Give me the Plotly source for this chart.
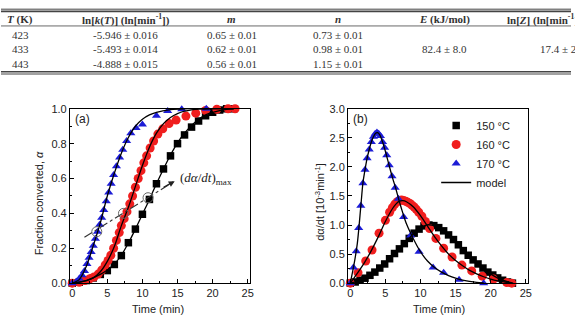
import plotly.graph_objects as go

W, H = 575, 327

# ---------------- table data ----------------
tbl_T = ["423", "433", "443"]
tbl_lnk = ["-5.946 ± 0.016", "-5.493 ± 0.014", "-4.888 ± 0.015"]
tbl_m = ["0.65 ± 0.01", "0.62 ± 0.01", "0.56 ± 0.01"]
tbl_n = ["0.73 ± 0.01", "0.98 ± 0.01", "1.15 ± 0.01"]
tbl_E = "82.4 ± 8.0"
tbl_Z = "17.4 ± 2.2"
tbl_headers = ["<b><i>T</i> (K)</b>", "<b>ln[<i>k</i>(<i>T</i>)] (ln[min<sup>-1</sup>])</b>",
               "<b><i>m</i></b>", "<b><i>n</i></b>", "<b><i>E</i> (kJ/mol)</b>",
               "<b>ln[<i>Z</i>] (ln[min<sup>-1</sup>])</b>"]

# ---------------- panel (a): conversion ----------------
a150_t = [0, 1, 2, 3, 4, 5, 6, 7, 8, 9, 10, 11, 12, 13, 14, 15, 16, 17, 18, 19, 20, 21, 22, 23]
a150_y = [0, 0.005, 0.015, 0.03, 0.05, 0.072, 0.107, 0.158, 0.232, 0.31, 0.395, 0.48, 0.57, 0.655,
          0.73, 0.8, 0.85, 0.895, 0.93, 0.96, 0.98, 0.993, 1.0, 1.0]
a160_t = [0, 1.0, 1.8, 2.5, 3.1, 3.7, 4.2, 4.7, 5.1, 5.5, 5.9, 6.3, 6.7, 7.0, 7.4, 7.8, 8.2, 8.6, 9.0,
          9.4, 9.8, 10.2, 10.6, 11.1, 11.6, 12.2, 12.9, 13.8, 14.8, 16.2, 17.6, 19.0, 20.6, 22.2, 23.2]
a160_y = [0, 0.005, 0.015, 0.025, 0.035, 0.052, 0.075, 0.104, 0.13, 0.16, 0.2, 0.245, 0.29, 0.33, 0.37,
          0.41, 0.455, 0.5, 0.55, 0.6, 0.645, 0.69, 0.73, 0.775, 0.815, 0.855, 0.885, 0.915, 0.935,
          0.958, 0.975, 0.99, 0.997, 1.0, 1.0]
a170_t = [0, 0.6, 1.0, 1.4, 1.75, 2.1, 2.4, 2.7, 3.0, 3.3, 3.6, 3.9, 4.2, 4.5, 4.85, 5.2, 5.55, 5.9,
          6.3, 6.75, 7.2, 7.75, 8.35, 9.1, 10.0, 12.0, 13.6, 15.6, 19.1]
a170_y = [0, 0.01, 0.025, 0.045, 0.07, 0.11, 0.145, 0.178, 0.215, 0.255, 0.295, 0.335, 0.375, 0.42,
          0.47, 0.52, 0.57, 0.62, 0.67, 0.72, 0.765, 0.815, 0.86, 0.89, 0.91, 0.96, 0.987, 0.997, 1.0]

am150_t = [0, 2, 4, 5, 6, 7, 8, 9, 10, 11, 12, 13, 14, 15, 16, 17, 18, 19, 20, 21, 22, 23]
am150_y = [0, 0.015, 0.05, 0.075, 0.11, 0.16, 0.23, 0.31, 0.395, 0.48, 0.57, 0.655, 0.735, 0.805,
           0.86, 0.905, 0.94, 0.965, 0.98, 0.99, 0.997, 1.0]
am160_t = [0, 1, 2, 3, 4, 5, 6, 7, 8, 9, 10, 11, 12, 13, 14, 15, 16, 17, 18, 20, 23]
am160_y = [0, 0.006, 0.015, 0.03, 0.065, 0.125, 0.21, 0.33, 0.435, 0.555, 0.675, 0.78, 0.86, 0.915,
           0.95, 0.972, 0.986, 0.994, 0.998, 1.0, 1.0]
am170_t = [0, 1, 2, 3, 4, 5, 6, 7, 8, 9, 10, 11, 12, 14, 16, 18]
am170_y = [0, 0.02, 0.095, 0.215, 0.345, 0.5, 0.63, 0.745, 0.835, 0.9, 0.94, 0.965, 0.98, 0.995, 1.0, 1.0]

rmax_t = [3.5, 7.3, 10.8]
rmax_y = [0.295, 0.40, 0.49]
guide_t = [1.74, 14.3]
guide_y = [0.263, 0.578]

# ---------------- panel (b): rate ----------------
b150_t = [0, 0.7, 1.4, 2.1, 2.8, 3.5, 4.2, 4.9, 5.6, 6.3, 7.0, 7.7, 8.4, 9.1, 9.8, 10.5, 11.2, 11.9,
          12.6, 13.3, 14.0, 14.7, 15.4, 16.1, 16.8, 17.5, 18.2, 18.9, 19.6, 20.3, 21.0, 21.7, 22.4, 23.1]
b150_y = [0, 0.02, 0.05, 0.085, 0.135, 0.19, 0.26, 0.33, 0.42, 0.51, 0.59, 0.68, 0.77, 0.86, 0.93,
          0.985, 1.0, 0.99, 0.955, 0.9, 0.83, 0.75, 0.66, 0.56, 0.48, 0.4, 0.33, 0.26, 0.19, 0.14,
          0.09, 0.05, 0.02, 0.0]
b160_t = [0, 1.1, 2.2, 3.1, 4.1, 5.0, 5.6, 6.0, 6.35, 6.7, 7.0, 7.3, 7.6, 7.9, 8.2, 8.5, 8.8, 9.1,
          9.4, 9.75, 10.2, 10.7, 11.3, 12.2, 13.3, 14.5, 15.9, 17.3, 18.8, 20.4, 22.3, 23.0]
b160_y = [0, 0.18, 0.38, 0.57, 0.86, 1.08, 1.22, 1.3, 1.36, 1.4, 1.42, 1.43, 1.42, 1.41, 1.39, 1.37,
          1.34, 1.31, 1.27, 1.22, 1.15, 1.06, 0.94, 0.77, 0.6, 0.45, 0.31, 0.21, 0.12, 0.07, 0.01, 0.0]
b170_t = [0, 0.45, 0.85, 1.2, 1.5, 1.8, 2.1, 2.4, 2.7, 3.0, 3.3, 3.55, 3.8, 4.05, 4.3, 4.6, 4.9, 5.2,
          5.55, 5.95, 6.4, 6.85, 7.6, 8.6, 9.8, 11.8, 13.3, 15.5, 19.0]
b170_y = [0, 0.27, 0.55, 0.95, 1.33, 1.72, 1.95, 2.15, 2.3, 2.43, 2.52, 2.57, 2.59, 2.57, 2.53, 2.43,
          2.33, 2.2, 2.03, 1.84, 1.64, 1.45, 1.14, 0.82, 0.54, 0.27, 0.18, 0.06, 0.0]

bm150_t = [0, 1, 2, 3, 4, 5, 6, 7, 8, 9, 10, 10.8, 11.6, 12.5, 13.5, 14.5, 15.5, 16.5, 17.5, 18.5,
           19.5, 20.5, 21.5, 22.5, 23.2]
bm150_y = [0, 0.03, 0.08, 0.15, 0.24, 0.34, 0.46, 0.59, 0.72, 0.85, 0.95, 1.0, 1.0, 0.96, 0.88, 0.77,
           0.64, 0.51, 0.4, 0.3, 0.2, 0.12, 0.06, 0.02, 0.0]
bm160_t = [0, 1, 2, 3, 4, 5, 6, 6.5, 7, 7.5, 8, 9, 10, 11, 12, 13, 14, 15, 16, 17, 18, 19, 20, 21, 22, 23]
bm160_y = [0, 0.17, 0.35, 0.56, 0.8, 1.06, 1.28, 1.36, 1.41, 1.42, 1.4, 1.31, 1.16, 0.98, 0.8, 0.64,
           0.5, 0.39, 0.3, 0.22, 0.16, 0.11, 0.07, 0.04, 0.02, 0.0]
bm170_t = [0, 0.5, 1.0, 1.5, 1.8, 2.1, 2.4, 2.7, 3.0, 3.3, 3.6, 3.9, 4.2, 4.6, 5.0, 5.5, 6.0, 6.5,
           7.0, 7.5, 8.0, 9, 10, 11, 12, 13, 14, 15, 16, 17, 18, 19]
bm170_y = [0, 0.3, 0.68, 1.32, 1.72, 1.95, 2.15, 2.3, 2.43, 2.52, 2.58, 2.59, 2.55, 2.43, 2.27, 2.04,
           1.82, 1.62, 1.4, 1.2, 1.02, 0.76, 0.54, 0.38, 0.27, 0.19, 0.13, 0.085, 0.05, 0.03, 0.015, 0.005]

series_names = ["150 °C", "160 °C", "170 °C"]
colors = ["#000000", "#f01e1e", "#1c1cd6"]
symbols = ["square", "circle", "triangle-up"]
sizes = [7.5, 9, 8]

# ---------------- helpers ----------------
def px(x):
    return x / W

def py(y):
    return 1 - y / H

fig = go.Figure()

a_pts = [(a150_t, a150_y), (a160_t, a160_y), (a170_t, a170_y)]
b_pts = [(b150_t, b150_y), (b160_t, b160_y), (b170_t, b170_y)]
a_mod = [(am150_t, am150_y), (am160_t, am160_y), (am170_t, am170_y)]
b_mod = [(bm150_t, bm150_y), (bm160_t, bm160_y), (bm170_t, bm170_y)]

for i in range(3):
    fig.add_trace(go.Scatter(x=a_pts[i][0], y=a_pts[i][1], mode="markers", xaxis="x", yaxis="y",
                             marker=dict(symbol=symbols[i], size=sizes[i], color=colors[i], line=dict(width=0)),
                             showlegend=False, cliponaxis=False))
for i in range(3):
    fig.add_trace(go.Scatter(x=b_pts[i][0], y=b_pts[i][1], mode="markers", xaxis="x2", yaxis="y2",
                             name=series_names[i],
                             marker=dict(symbol=symbols[i], size=sizes[i], color=colors[i], line=dict(width=0)),
                             showlegend=True, cliponaxis=False))
for i in range(3):
    fig.add_trace(go.Scatter(x=a_mod[i][0], y=a_mod[i][1], mode="lines", xaxis="x", yaxis="y",
                             line=dict(color="black", width=1.3, shape="spline", smoothing=0.8),
                             showlegend=False, hoverinfo="skip"))
for i in range(3):
    fig.add_trace(go.Scatter(x=b_mod[i][0], y=b_mod[i][1], mode="lines", xaxis="x2", yaxis="y2",
                             name="model", line=dict(color="black", width=1.3, shape="spline", smoothing=0.8),
                             showlegend=(i == 0), hoverinfo="skip"))

# guide line + max-rate markers
fig.add_trace(go.Scatter(x=guide_t, y=guide_y, mode="lines", xaxis="x", yaxis="y",
                         line=dict(color="#333333", width=1.1, dash="dashdot"), showlegend=False))
fig.add_trace(go.Scatter(x=rmax_t, y=rmax_y, mode="markers", xaxis="x", yaxis="y",
                         marker=dict(symbol="circle-open", size=10, color="#666666", line=dict(width=1)),
                         showlegend=False))

ax_common = dict(showline=True, linecolor="black", linewidth=1, mirror=True, ticks="inside",
                 ticklen=4, tickwidth=1, tickcolor="black", showgrid=False, zeroline=False,
                 tickfont=dict(family="Liberation Sans, Arial", size=11, color="#222"))

xa_dom = [px(69.5), px(251)]
xb_dom = [px(350), px(531.5)]
y_dom = [py(287.7), py(106.7)]

fig.update_layout(
    width=W, height=H, margin=dict(l=0, r=0, t=0, b=0),
    paper_bgcolor="white", plot_bgcolor="white",
    xaxis=dict(domain=xa_dom, anchor="y", range=[-0.33, 25.3], dtick=5, tick0=0,
               minor=dict(ticks="inside", ticklen=2, dtick=2.5, tickcolor="black"), **ax_common),
    yaxis=dict(domain=y_dom, anchor="x", range=[0, 1.0], dtick=0.2, tickformat=".1f",
               minor=dict(ticks="inside", ticklen=2, dtick=0.1, tickcolor="black"), **ax_common),
    xaxis2=dict(domain=xb_dom, anchor="y2", range=[-0.33, 25.3], dtick=5, tick0=0,
                minor=dict(ticks="inside", ticklen=2, dtick=2.5, tickcolor="black"), **ax_common),
    yaxis2=dict(domain=y_dom, anchor="x2", range=[0, 3.0], dtick=0.5, tickformat=".1f",
                minor=dict(ticks="inside", ticklen=2, dtick=0.25, tickcolor="black"), **ax_common),
    legend=dict(x=px(439), y=py(109), xanchor="left", yanchor="top", bgcolor="rgba(0,0,0,0)",
                font=dict(family="Liberation Sans, Arial", size=11, color="#222"), itemwidth=30),
    showlegend=True,
)

ann = []
serif = "Liberation Serif, Times New Roman"
sans = "Liberation Sans, Arial"
tc = "#333333"
# table header
hx = [19.5, 126, 233, 340, 447, 548]
for x, t in zip(hx, tbl_headers):
    ann.append(dict(x=px(x), y=py(13.5), xref="paper", yref="paper", text=t, showarrow=False,
                    xanchor="center", yanchor="middle", font=dict(family=serif, size=11, color=tc)))
row_y = [30, 45, 60.5]
for r in range(3):
    for x, t in zip(hx[:4], [tbl_T[r], tbl_lnk[r], tbl_m[r], tbl_n[r]]):
        ann.append(dict(x=px(x), y=py(row_y[r]), xref="paper", yref="paper", text=t, showarrow=False,
                        xanchor="center", yanchor="middle", font=dict(family=serif, size=11, color=tc)))
ann.append(dict(x=px(447), y=py(45), xref="paper", yref="paper", text=tbl_E, showarrow=False,
                xanchor="center", yanchor="middle", font=dict(family=serif, size=11, color=tc)))
ann.append(dict(x=px(542), y=py(45), xref="paper", yref="paper", text=tbl_Z, showarrow=False,
                xanchor="left", yanchor="middle", font=dict(family=serif, size=11, color=tc)))

# axis titles
ann.append(dict(x=px(158), y=py(315), xref="paper", yref="paper", text="Time (min)", showarrow=False,
                xanchor="center", yanchor="middle", font=dict(family=sans, size=11, color="#222")))
ann.append(dict(x=px(442), y=py(315), xref="paper", yref="paper", text="Time (min)", showarrow=False,
                xanchor="center", yanchor="middle", font=dict(family=sans, size=11, color="#222")))
ann.append(dict(x=px(39), y=py(205), xref="paper", yref="paper", text="Fraction converted, <i>α</i>",
                showarrow=False, textangle=-90, xanchor="center", yanchor="middle",
                font=dict(family=sans, size=11, color="#222")))
ann.append(dict(x=px(321), y=py(203), xref="paper", yref="paper", text="dα/dt [10<sup>-3</sup>min<sup>-1</sup>]",
                showarrow=False, textangle=-90, xanchor="center", yanchor="middle",
                font=dict(family=sans, size=11, color="#222")))
# panel labels
ann.append(dict(x=px(73), y=py(117), xref="paper", yref="paper", text="(a)", showarrow=False,
                xanchor="left", yanchor="middle", font=dict(family=sans, size=12, color="#222")))
ann.append(dict(x=px(353), y=py(117), xref="paper", yref="paper", text="(b)", showarrow=False,
                xanchor="left", yanchor="middle", font=dict(family=sans, size=12, color="#222")))
# max-rate label and arrow head
ann.append(dict(x=15.0, y=0.60, xref="x", yref="y", text="(<i>d</i><i>α</i>/<i>dt</i>)<sub>max</sub>",
                showarrow=False, xanchor="left", yanchor="middle",
                font=dict(family=serif, size=13, color="#222")))
ann.append(dict(x=14.6, y=0.585, ax=12.8, ay=0.545, xref="x", yref="y", axref="x", ayref="y", text="",
                showarrow=True, arrowhead=2, arrowsize=1, arrowwidth=1.2, arrowcolor="#222"))

fig.update_layout(annotations=ann)

# table rules
shapes = []
for yy, w in [(3.3, 1.0), (5.6, 1.6), (20.7, 0.8), (68.2, 1.6), (70.6, 1.0)]:
    shapes.append(dict(type="line", xref="paper", yref="paper", x0=0, x1=1, y0=py(yy), y1=py(yy),
                       line=dict(color="#444", width=w)))
fig.update_layout(shapes=shapes)

fig.write_html("out.html")
